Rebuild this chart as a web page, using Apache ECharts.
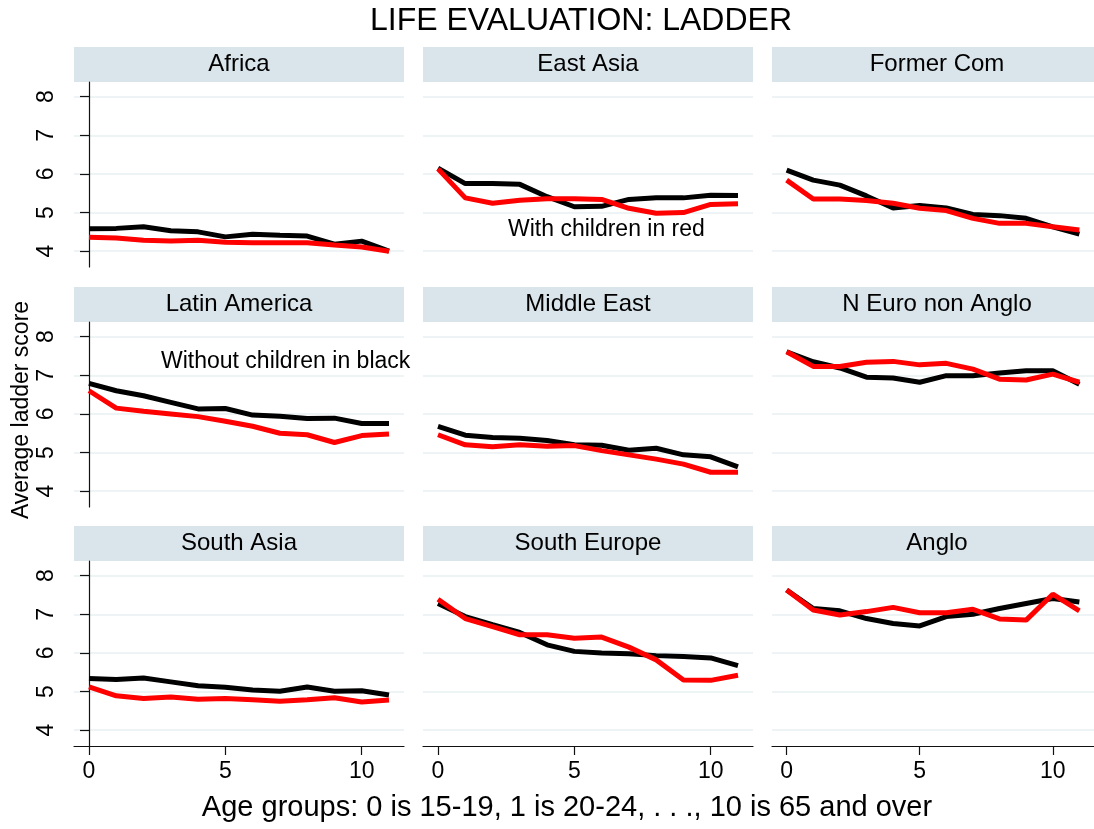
<!DOCTYPE html>
<html>
<head>
<meta charset="utf-8">
<title>Life evaluation: ladder</title>
<script src="https://cdn.jsdelivr.net/npm/echarts@6/dist/echarts.min.js"></script>
<style>
  html, body { margin: 0; padding: 0; background: #fff; }
  #chart { width: 1094px; height: 829px; }
</style>
</head>
<body>
<div id="chart"></div>
<script>
// age group index (0 = 15-19 ... 10 = 65+)
const ageGroups = [0, 1, 2, 3, 4, 5, 6, 7, 8, 9, 10, 11]
const regions = ['Africa', 'East Asia', 'Former Com', 'Latin America', 'Middle East',
  'N Euro non Anglo', 'South Asia', 'South Europe', 'Anglo']
const yTicks = [4, 5, 6, 7, 8]
const xTicks = [0, 5, 10]

// without children (black)
const africaWithout = [4.58, 4.59, 4.63, 4.53, 4.50, 4.37, 4.44, 4.41, 4.39, 4.18, 4.26, 4.00]
const eastAsiaWithout = [6.15, 5.75, 5.75, 5.73, 5.41, 5.15, 5.16, 5.34, 5.38, 5.38, 5.45, 5.44]
const formerComWithout = [6.10, 5.84, 5.71, 5.43, 5.12, 5.18, 5.12, 4.95, 4.92, 4.85, 4.63, 4.44]
const latinAmWithout = [6.79, 6.60, 6.47, 6.30, 6.13, 6.14, 5.97, 5.94, 5.88, 5.89, 5.75, 5.75]
const middleEastWithout = [5.68, 5.45, 5.39, 5.37, 5.31, 5.20, 5.19, 5.06, 5.11, 4.94, 4.89, 4.63]
const nEuroWithout = [7.61, 7.35, 7.19, 6.95, 6.93, 6.82, 6.99, 6.99, 7.06, 7.12, 7.12, 6.77]
const southAsiaWithout = [5.34, 5.31, 5.35, 5.25, 5.15, 5.11, 5.04, 5.01, 5.12, 5.01, 5.02, 4.91]
const southEuWithout = [7.28, 6.94, 6.73, 6.53, 6.21, 6.04, 6.00, 5.98, 5.93, 5.91, 5.87, 5.67]
const angloWithout = [7.63, 7.15, 7.09, 6.89, 6.76, 6.70, 6.94, 7.00, 7.15, 7.28, 7.41, 7.32]

// with children (red)
const africaWith = [4.36, 4.34, 4.28, 4.26, 4.28, 4.23, 4.22, 4.22, 4.22, 4.16, 4.11, 4.00]
const eastAsiaWith = [6.13, 5.38, 5.24, 5.32, 5.36, 5.36, 5.34, 5.11, 4.98, 5.00, 5.21, 5.23]
const formerComWith = [5.84, 5.35, 5.35, 5.31, 5.24, 5.11, 5.05, 4.85, 4.72, 4.72, 4.63, 4.55]
const latinAmWith = [6.60, 6.15, 6.07, 6.00, 5.93, 5.81, 5.68, 5.50, 5.46, 5.26, 5.44, 5.48]
const middleEastWith = [5.46, 5.20, 5.15, 5.20, 5.16, 5.18, 5.05, 4.94, 4.83, 4.70, 4.49, 4.49]
const nEuroWith = [7.61, 7.23, 7.23, 7.34, 7.36, 7.27, 7.31, 7.16, 6.90, 6.88, 7.03, 6.82]
const southAsiaWith = [5.12, 4.89, 4.82, 4.86, 4.80, 4.82, 4.79, 4.75, 4.79, 4.84, 4.73, 4.78]
const southEuWith = [7.39, 6.89, 6.68, 6.47, 6.47, 6.38, 6.41, 6.15, 5.82, 5.30, 5.29, 5.42]
const angloWith = [7.63, 7.11, 6.98, 7.07, 7.18, 7.04, 7.04, 7.13, 6.88, 6.85, 7.52, 7.09]

const withoutKids = [africaWithout, eastAsiaWithout, formerComWithout, latinAmWithout,
  middleEastWithout, nEuroWithout, southAsiaWithout, southEuWithout, angloWithout]
const withKids = [africaWith, eastAsiaWith, formerComWith, latinAmWith,
  middleEastWith, nEuroWith, southAsiaWith, southEuWith, angloWith]

const font = 'Liberation Sans, Arial, Helvetica, sans-serif'
const colLeft = [74, 423, 772]
const rowTop = [82, 322, 561]
const plotW = 330
const plotH = 185
const headH = 35

const chart = echarts.init(document.getElementById('chart'), null, { renderer: 'canvas' })

const grids = []
const xAxes = []
const yAxes = []
const series = []
const graphics = []

regions.forEach((name, i) => {
  const r = Math.floor(i / 3)
  const c = i % 3
  const left = colLeft[c]
  const top = rowTop[r]
  grids.push({ left: left, top: top, width: plotW, height: plotH })

  const bottomRow = r === 2
  const leftCol = c === 0
  xAxes.push({
    gridIndex: i,
    type: 'value',
    min: -0.55,
    max: 11.55,
    axisLine: { show: bottomRow, onZero: false, lineStyle: { color: '#111', width: 1.2 } },
    axisTick: { show: bottomRow, length: 9, customValues: xTicks, lineStyle: { color: '#111', width: 1.2 } },
    axisLabel: { show: bottomRow, customValues: xTicks, margin: 14, fontSize: 23, color: '#000', fontFamily: font },
    splitLine: { show: false }
  })
  yAxes.push({
    gridIndex: i,
    type: 'value',
    min: 3.59,
    max: 8.38,
    axisLine: { show: leftCol, lineStyle: { color: '#111', width: 1.2 } },
    axisTick: { show: leftCol, length: 9, customValues: yTicks, lineStyle: { color: '#111', width: 1.2 } },
    axisLabel: { show: leftCol, customValues: yTicks, rotate: 90, margin: 16, fontSize: 23, color: '#000', fontFamily: font },
    splitLine: { show: true, lineStyle: { color: '#e8f0f2', width: 1.6 } }
  })

  series.push({
    name: 'Without children',
    type: 'line',
    xAxisIndex: i,
    yAxisIndex: i,
    showSymbol: false,
    lineStyle: { color: '#000', width: 5 },
    data: ageGroups.map((a, k) => [a, withoutKids[i][k]]),
    animation: false
  })
  series.push({
    name: 'With children',
    type: 'line',
    xAxisIndex: i,
    yAxisIndex: i,
    showSymbol: false,
    lineStyle: { color: '#ff0000', width: 5 },
    data: ageGroups.map((a, k) => [a, withKids[i][k]]),
    animation: false
  })

  // panel header strip
  graphics.push({
    type: 'rect',
    shape: { x: left, y: top - headH, width: plotW, height: headH },
    style: { fill: '#d9e5eb' },
    z: 0
  })
  graphics.push({
    type: 'text',
    x: left + plotW / 2,
    y: top - headH / 2,
    style: { text: name, font: '24px ' + font, fill: '#000', textAlign: 'center', textVerticalAlign: 'middle' },
    z: 10
  })
})

// notes inside panels
graphics.push({
  type: 'text', x: 508, y: 230,
  style: { text: 'With children in red', font: '23px ' + font, fill: '#000', textVerticalAlign: 'middle' },
  z: 10
})
graphics.push({
  type: 'text', x: 161, y: 362,
  style: { text: 'Without children in black', font: '23px ' + font, fill: '#000', textVerticalAlign: 'middle' },
  z: 10
})
// titles
graphics.push({
  type: 'text', x: 581, y: 21,
  style: { text: 'LIFE EVALUATION: LADDER', font: '32px ' + font, fill: '#000', textAlign: 'center', textVerticalAlign: 'middle' },
  z: 10
})
graphics.push({
  type: 'text', x: 567, y: 808,
  style: { text: 'Age groups: 0 is 15-19, 1 is 20-24, . . ., 10 is 65 and over', font: '29px ' + font, fill: '#000', textAlign: 'center', textVerticalAlign: 'middle' },
  z: 10
})
graphics.push({
  type: 'text', x: 22, y: 410, rotation: Math.PI / 2,
  style: { text: 'Average ladder score', font: '23px ' + font, fill: '#000', textAlign: 'center', textVerticalAlign: 'middle' },
  z: 10
})

chart.setOption({
  backgroundColor: '#fff',
  animation: false,
  grid: grids,
  xAxis: xAxes,
  yAxis: yAxes,
  series: series,
  graphic: graphics
})
</script>
</body>
</html>
